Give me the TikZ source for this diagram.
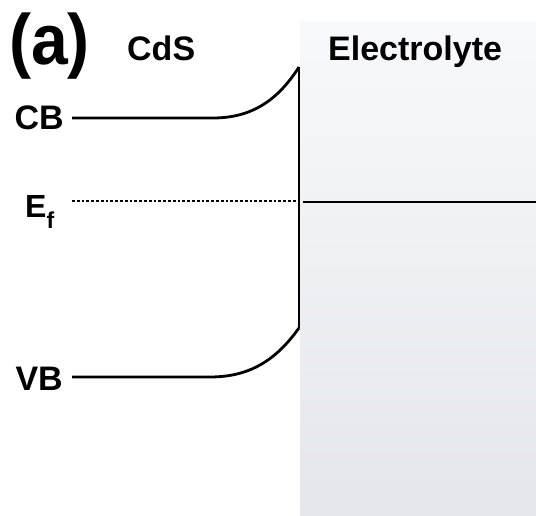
\documentclass[tikz,border=0pt]{standalone}
\usepackage{fontspec}
\setmainfont{Liberation Sans}
\begin{document}
\begin{tikzpicture}[x=1pt,y=-1pt,
  lbl/.style={inner sep=0pt,font=\fontsize{34}{34}\selectfont\bfseries},
  band/.style={line width=2.8pt},
  fermi/.style={line width=2.8pt,dotted}]
\useasboundingbox (0,0) rectangle (536,516);
\definecolor{eltop}{HTML}{F8F9FC}
\definecolor{elbot}{HTML}{E3E6EB}
\shade[top color=eltop,bottom color=elbot] (300,22) rectangle (536,516);
% labels
\node[lbl,font=\fontsize{66}{66}\selectfont\bfseries,anchor=base west,yscale=1.08] (a) at (9,65) {(a)};
\node[lbl,anchor=base west] (cds) at (127,61) {CdS};
\node[lbl,anchor=base west] (el) at (328,61) {Electrolyte};
\node[lbl,anchor=base east] (cb) at (64,130) {CB};
\node[lbl,font=\fontsize{32}{32}\selectfont\bfseries,anchor=base west] (ef) at (25,218) {E\raisebox{-0.32em}{\fontsize{23}{23}\selectfont f}};
\node[lbl,anchor=base east] (vb) at (63,390) {VB};
% coordinates
\coordinate (cbL) at (72,118);
\coordinate (cbF) at (213,118);
\coordinate (iTop) at (299,67);
\coordinate (iBot) at (299,328);
\coordinate (vbL) at (72,377);
\coordinate (vbF) at (210,377);
\coordinate (efL) at (72,201);
\coordinate (efI) at (298,201);
\coordinate (efS) at (303,202);
\coordinate (efR) at (536,202);
% bands
\draw[band] (cbL) -- (cbF) .. controls (252,118) and (278,100) .. (iTop);
\draw[band] (iTop) -- (iBot);
\draw[band] (vbL) -- (vbF) .. controls (250,377) and (276,360) .. (iBot);
\draw[fermi] (efL) -- (efI);
\draw[band] (efS) -- (efR);
\end{tikzpicture}
\end{document}
